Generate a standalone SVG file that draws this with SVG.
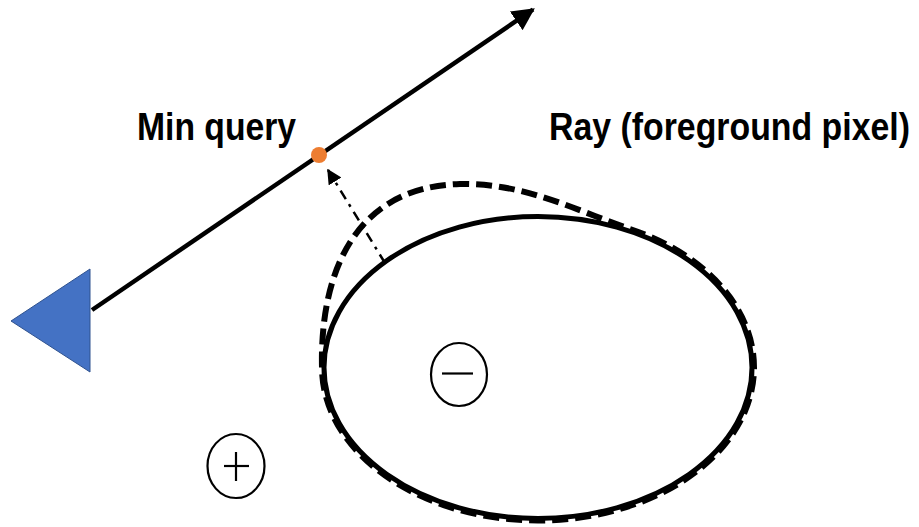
<svg xmlns="http://www.w3.org/2000/svg" width="919" height="527" viewBox="0 0 919 527">
<style>
.lbl{font-family:"Liberation Sans",Arial,sans-serif;font-weight:bold;font-size:34px;fill:#000}
.sym{fill:none;stroke:#000;stroke-width:2.2}
</style>
<defs>
<marker id="ah" viewBox="0 0 10 10" refX="9" refY="5" markerWidth="5" markerHeight="5" orient="auto" markerUnits="strokeWidth"><path d="M0,0 L10,5 L0,10 z" fill="#000"/></marker>
<marker id="ah2" viewBox="0 0 10 10" refX="9" refY="5" markerWidth="6" markerHeight="6" orient="auto" markerUnits="strokeWidth"><path d="M0,0 L10,5 L0,10 z" fill="#000"/></marker>
</defs>
<rect width="919" height="527" fill="#fff"/>
<g id="connectors">
<line x1="92" y1="310" x2="533" y2="9.5" stroke="#000" stroke-width="4.5" marker-end="url(#ah)"/>
<line x1="385" y1="263" x2="328" y2="170" stroke="#000" stroke-width="2.5" stroke-dasharray="10 6 3 6" marker-end="url(#ah2)"/>
</g>
<g id="camera"><polygon points="11,321 90,269 90,372" fill="#4472C4" stroke="#2F528F" stroke-width="1"/></g>
<g id="object">
<ellipse cx="538" cy="367.5" rx="214" ry="151" fill="none" stroke="#000" stroke-width="5"/>
<path d="M322,367.5 C320,280 350,187 460,184 C525,183 575,210 629.3,228.8 A216 153 0 1 1 322,367.5" fill="none" stroke="#000" stroke-width="6" stroke-dasharray="16 7"/>
</g>
<g id="minquery"><circle cx="319" cy="155" r="8" fill="#ED7D31"/>
<text class="lbl" transform="translate(137,140) scale(1,1.12)" x="0" y="0" textLength="159" lengthAdjust="spacingAndGlyphs">Min query</text></g>
<g id="ray"><text class="lbl" transform="translate(549,140) scale(1,1.12)" x="0" y="0" textLength="361" lengthAdjust="spacingAndGlyphs">Ray (foreground pixel)</text></g>
<g id="minus"><ellipse class="sym" cx="459" cy="374.5" rx="28" ry="31.5"/><line class="sym" x1="442" y1="373.5" x2="473" y2="373.5"/></g>
<g id="plus"><ellipse class="sym" cx="236" cy="466" rx="28.5" ry="32"/><line class="sym" x1="224" y1="466" x2="249" y2="466"/><line class="sym" x1="236" y1="452" x2="236" y2="481"/></g>
</svg>
